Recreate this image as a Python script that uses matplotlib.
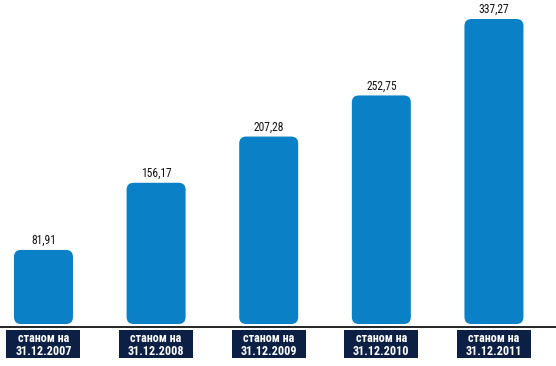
import matplotlib.pyplot as plt
from matplotlib.patches import FancyBboxPatch, Rectangle

dates = ["31.12.2007", "31.12.2008", "31.12.2009", "31.12.2010", "31.12.2011"]
values = [81.91, 156.17, 207.28, 252.75, 337.27]
value_labels = ["81,91", "156,17", "207,28", "252,75", "337,27"]

bar_color = "#0a80c6"
box_color = "#0c1f45"
narrow = ["Roboto Condensed", "Archivo Narrow", "Liberation Sans Narrow", "DejaVu Sans"]

fig = plt.figure(figsize=(5.56, 3.66), dpi=100)
# zero line sits 324 px from the top
ax = fig.add_axes([0, (366 - 324) / 366, 1, 324 / 366])
ax.set_xlim(-0.386, 4.551)
ax.set_ylim(0, 324 / 0.9043)
ax.axis("off")

px_x = 4.937 / 556          # data x units per pixel
px_y = (324 / 0.9043) / 324  # data y units per pixel
w = 59 * px_x
r = 7 * px_x
aspect = px_y / px_x

for i, v in enumerate(values):
    bar = FancyBboxPatch((i - w / 2, 0), w, v,
                         boxstyle=f"round,pad=0,rounding_size={r}",
                         mutation_aspect=aspect,
                         fc=bar_color, ec="none")
    ax.add_patch(bar)
    ax.text(i, v + 3 * px_y, value_labels[i], ha="center", va="bottom",
            fontsize=8.3, family=narrow, color="#111111")

    bw = 74 * px_x
    ax.add_patch(Rectangle((i - bw / 2, -34 * px_y), bw, 28 * px_y,
                           fc=box_color, ec="none", clip_on=False))
    ax.text(i, -15 * px_y, "станом на", ha="center", va="center",
            fontsize=8.7, family=narrow, weight="bold", color="white",
            clip_on=False)
    ax.text(i, -27.5 * px_y, dates[i], ha="center", va="center",
            fontsize=8.7, family=narrow, weight="bold", color="white",
            clip_on=False)

ax.plot([-0.386, 4.551], [-3 * px_y, -3 * px_y], color="black",
        lw=1.2, clip_on=False, solid_capstyle="butt")

fig.savefig("out.png", dpi=100)
